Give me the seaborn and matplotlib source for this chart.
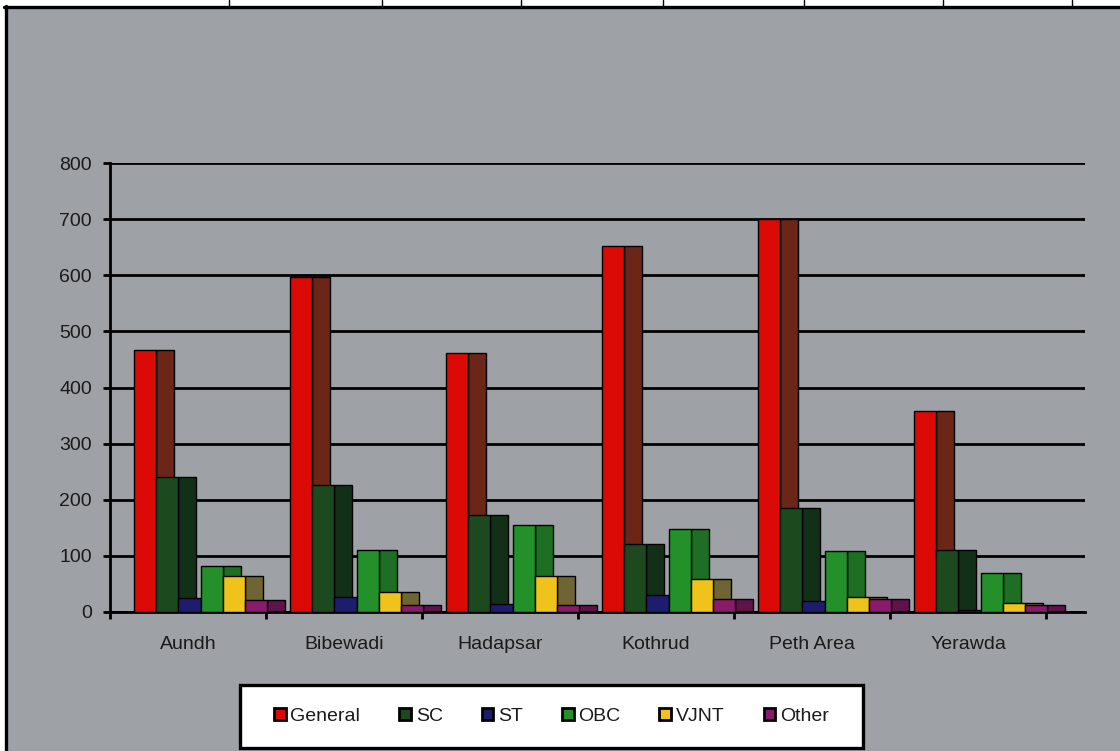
import numpy as np
import seaborn as sns
import matplotlib.pyplot as plt
from matplotlib.patches import Patch, Rectangle
from matplotlib.lines import Line2D

# values
districts = ["Aundh", "Bibewadi", "Hadapsar", "Kothrud", "Peth Area", "Yerawda"]
groups = ["General", "SC", "ST", "OBC", "VJNT", "Other"]
general = [467, 596, 461, 652, 700, 358]
sc = [240, 226, 173, 121, 185, 110]
st = [25, 26, 14, 30, 20, 4]
obc = [82, 110, 155, 148, 109, 70]
vjnt = [64, 35, 64, 59, 27, 16]
other = [22, 12, 12, 23, 24, 13]
series = [general, sc, st, obc, vjnt, other]

front_colors = ["#dc0a06", "#1c4a1e", "#1e1c6c", "#23902a", "#f0c21c", "#8a1a6c"]
side_colors = ["#6c2618", "#123018", "#15144a", "#1e6e24", "#6e6434", "#5e1448"]
GRAY = "#9ea2a6"
INK = "#1a1a1a"

sns.set_theme(style="white")
plt.rcParams['font.family'] = ['Liberation Sans', 'DejaVu Sans']

W, H = 1120, 751
fig = plt.figure(figsize=(W / 100, H / 100), dpi=100)
fig.patch.set_facecolor("white")


def fx(px):
    return px / W


def fy(py):
    return 1 - py / H


# scanned page: grey chart area, frame and the bit of table above it
fig.patches.append(Rectangle((fx(7), 0), 1 - fx(7), fy(8), transform=fig.transFigure,
                             facecolor=GRAY, edgecolor="none", zorder=-5))
fig.add_artist(Line2D([fx(6), fx(6)], [0, fy(6)], color="black", lw=2.4))
fig.add_artist(Line2D([fx(4), 1], [fy(7), fy(7)], color="black", lw=2.4))
for xl in [229, 382, 521, 663, 804, 943, 1072]:
    fig.add_artist(Line2D([fx(xl), fx(xl)], [fy(7), 1], color="black", lw=1))

ax = fig.add_axes([fx(110), fy(612), fx(1085) - fx(110), fy(163) - fy(612)])
ax.set_facecolor("none")

x = np.arange(len(districts))
FRONT0 = -0.5 + 24 / 156   # left edge of first bar inside a category
FW = 22.2 / 156            # front face width
SW = 18 / 156              # depth (side face) width

# side faces first, so each next bar's front hides them
for k, (vals, col) in enumerate(zip(series, side_colors)):
    left = x + FRONT0 + k * FW
    sns.barplot(x=left + FW + SW / 2, y=vals, orient="x", native_scale=True, width=SW,
                color=col, saturation=1, edgecolor="black", linewidth=1,
                errorbar=None, ax=ax, zorder=2)
for k, (vals, col) in enumerate(zip(series, front_colors)):
    left = x + FRONT0 + k * FW
    sns.barplot(x=left + FW / 2, y=vals, orient="x", native_scale=True, width=FW,
                color=col, saturation=1, edgecolor="black", linewidth=1,
                errorbar=None, ax=ax, zorder=3)

ax.set_xlim(-0.5, 5.75)
ax.set_ylim(0, 800)
ax.set_xlabel("")
ax.set_ylabel("")

ax.set_xticks(x)
ax.set_xticklabels(districts)
ax.set_xticks(np.arange(-0.5, 6, 1), minor=True)
ax.tick_params(axis="x", which="major", bottom=True, length=0, pad=17,
               labelsize=14, labelcolor=INK)
ax.tick_params(axis="x", which="minor", bottom=True, length=5, width=2,
               direction="out", color="black")
ax.set_yticks(range(0, 801, 100))
ax.tick_params(axis="y", left=True, length=5, width=2, direction="out",
               color="black", pad=8, labelsize=14, labelcolor=INK)

ax.yaxis.grid(True, color="black", linewidth=2)
ax.xaxis.grid(False)
ax.set_axisbelow(True)
for side in ["top", "right"]:
    ax.spines[side].set_visible(False)
for side in ["left", "bottom"]:
    ax.spines[side].set_color("black")
    ax.spines[side].set_linewidth(2)

# legend box at the bottom
fig.patches.append(Rectangle((fx(240), fy(748)), fx(863) - fx(240), fy(685) - fy(748),
                             transform=fig.transFigure, facecolor="white",
                             edgecolor="black", linewidth=2.4, zorder=1))
handles = [Patch(facecolor=c, edgecolor="black", linewidth=2) for c in front_colors]
leg = fig.legend(handles, groups, loc="center", bbox_to_anchor=(fx(551.5), fy(716.5)),
                 ncol=6, frameon=False, fontsize=14, handlelength=0.6, handleheight=0.6,
                 handletextpad=0.25, columnspacing=2.0)
for t in leg.get_texts():
    t.set_color(INK)

fig.savefig("out.png", dpi=100)
